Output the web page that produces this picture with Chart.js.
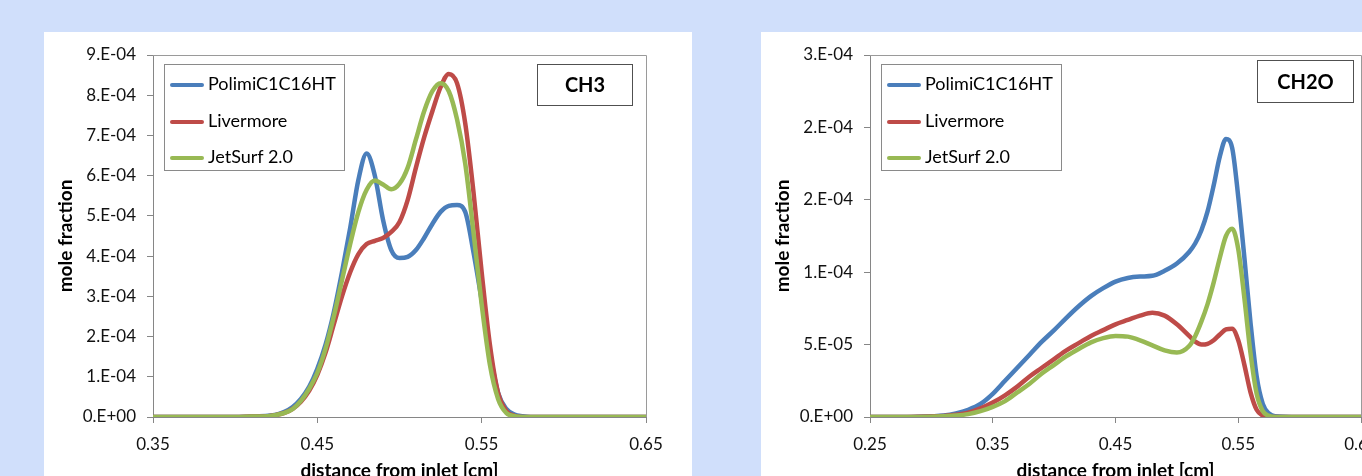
<!DOCTYPE html>
<html>
<head>
<meta charset="utf-8">
<script src="https://cdn.jsdelivr.net/npm/chart.js@4.4.0/dist/chart.umd.min.js"></script>
<style>
html, body { margin: 0; padding: 0; width: 1362px; height: 476px; overflow: hidden; background: #d0dffb; }
.panel { position: absolute; top: 32px; height: 455px; background: #fff; }
#p1 { left: 44px; width: 648px; }
#p2 { left: 761px; width: 650px; }
.panel canvas { position: absolute; left: 0; top: 0; }
.legend { position: absolute; left: 120px; top: 32px; width: 181px; height: 107px; border: 1px solid #8a8a8a; box-sizing: border-box; font: 18px Lato, sans-serif; color: #000; }
.legend .row { position: absolute; left: 0; height: 22px; line-height: 22px; white-space: nowrap; }
.legend .swatch { display: inline-block; width: 34px; height: 4px; border-radius: 2px; margin-left: 5px; margin-right: 4px; vertical-align: middle; }
.tag { position: absolute; border: 1.5px solid #505050; box-sizing: border-box; font: bold 20px Lato, sans-serif; text-align: center; color: #000; }
</style>
</head>
<body>
<div class="panel" id="p1">
  <canvas id="ch3" width="648" height="455"></canvas>
  <div class="legend" id="leg1"></div>
  <div class="tag" style="left:493px;top:32px;width:96px;height:42px;line-height:39px;">CH3</div>
</div>
<div class="panel" id="p2">
  <canvas id="ch2o" width="650" height="455"></canvas>
  <div class="legend" id="leg2"></div>
  <div class="tag" style="left:496px;top:28px;width:97px;height:43px;line-height:40px;">CH2O</div>
</div>
<script>
var seriesNames = ['PolimiC1C16HT', 'Livermore', 'JetSurf 2.0'];
var seriesColors = ['#4a7ebb', '#be4b48', '#98b954'];

// CH3 profile, mole fraction in units of 1e-4
var ch3X = [0.35, 0.38, 0.40, 0.41, 0.42, 0.425, 0.43, 0.435, 0.44, 0.445, 0.45, 0.455, 0.46, 0.465, 0.47, 0.475,
            0.48, 0.485, 0.49, 0.495, 0.50, 0.505, 0.51, 0.515, 0.52, 0.525, 0.53, 0.535, 0.54, 0.545, 0.55, 0.555,
            0.56, 0.565, 0.57, 0.575, 0.58, 0.59, 0.60, 0.65];
var ch3Polimi = [0, 0, 0, 0.01, 0.03, 0.06, 0.13, 0.25, 0.45, 0.75, 1.2, 1.8, 2.6, 3.6, 4.7, 5.9,
                 6.55, 6.0, 4.9, 4.15, 3.95, 3.98, 4.15, 4.45, 4.8, 5.1, 5.25, 5.27, 5.1, 4.1, 2.9, 1.6,
                 0.6, 0.2, 0.06, 0.02, 0, 0, 0, 0];
var ch3Livermore = [0, 0, 0, 0.01, 0.02, 0.05, 0.1, 0.2, 0.38, 0.65, 1.05, 1.6, 2.3, 3.0, 3.6, 4.05,
                    4.3, 4.38, 4.45, 4.6, 4.85, 5.4, 6.2, 6.95, 7.6, 8.2, 8.53, 8.3, 7.3, 5.6, 3.6, 1.8,
                    0.6, 0.15, 0.03, 0, 0, 0, 0, 0];
var ch3JetSurf = [0, 0, 0, 0.01, 0.02, 0.05, 0.1, 0.2, 0.4, 0.7, 1.1, 1.7, 2.5, 3.4, 4.3, 5.1,
                  5.65, 5.88, 5.78, 5.66, 5.8, 6.2, 6.9, 7.6, 8.1, 8.3, 8.1, 7.4, 6.3, 4.6, 2.8, 1.3,
                  0.45, 0.1, 0.02, 0, 0, 0, 0, 0];
var ch3XTicks = [0.35, 0.45, 0.55, 0.65];
var ch3YTicks = [0, 1, 2, 3, 4, 5, 6, 7, 8, 9];
var ch3YLabels = ['0.E+00', '1.E-04', '2.E-04', '3.E-04', '4.E-04', '5.E-04', '6.E-04', '7.E-04', '8.E-04', '9.E-04'];

// CH2O profile, mole fraction in units of 1e-5
var ch2oX = [0.25, 0.28, 0.30, 0.31, 0.32, 0.33, 0.34, 0.35, 0.36, 0.37, 0.38, 0.39, 0.40, 0.41, 0.42, 0.43,
             0.44, 0.45, 0.46, 0.47, 0.48, 0.49, 0.50, 0.51, 0.515, 0.52, 0.525, 0.53, 0.535, 0.54, 0.545, 0.55,
             0.555, 0.56, 0.565, 0.57, 0.575, 0.58, 0.60, 0.65];
var ch2oPolimi = [0, 0, 0.05, 0.1, 0.25, 0.5, 0.9, 1.6, 2.5, 3.4, 4.3, 5.2, 6.0, 6.85, 7.65, 8.35,
                  8.9, 9.35, 9.6, 9.7, 9.75, 10.1, 10.6, 11.4, 12.0, 12.9, 14.2, 16.0, 18.0, 19.2, 18.6, 15.2,
                  11.0, 6.5, 2.8, 0.9, 0.25, 0.05, 0, 0];
var ch2oLivermore = [0, 0, 0.03, 0.07, 0.15, 0.3, 0.6, 1.0, 1.5, 2.1, 2.8, 3.4, 4.0, 4.6, 5.1, 5.6,
                     6.0, 6.4, 6.7, 7.0, 7.2, 7.0, 6.4, 5.6, 5.2, 5.0, 5.05, 5.3, 5.7, 6.05, 6.1, 5.3,
                     3.6, 1.7, 0.5, 0.1, 0.02, 0, 0, 0];
var ch2oJetSurf = [0, 0, 0.02, 0.05, 0.1, 0.2, 0.4, 0.7, 1.1, 1.7, 2.3, 3.0, 3.6, 4.2, 4.7, 5.15,
                   5.45, 5.6, 5.55, 5.3, 4.95, 4.6, 4.45, 4.9, 5.6, 6.6, 7.8, 9.3, 11.0, 12.5, 13.0, 11.6,
                   8.2, 4.4, 1.6, 0.4, 0.08, 0, 0, 0];
var ch2oXTicks = [0.25, 0.35, 0.45, 0.55, 0.65];
var ch2oYTicks = [0, 5, 10, 15, 20, 25];
var ch2oYLabels = ['0.E+00', '5.E-05', '1.E-04', '2.E-04', '2.E-04', '3.E-04'];

var fontFamily = 'Lato, sans-serif';
var axisColor = '#868686';

var toPoints = function(xs, ys, unit) {
    return xs.map(function(x, i) { return { x: x, y: ys[i] * unit }; });
};

// grey frame on top and right of the plot area, like the excel chart
var frameBox = {
    id: 'frameBox',
    beforeDatasetsDraw: function(chart) {
        var a = chart.chartArea;
        var ctx = chart.ctx;
        ctx.save();
        ctx.strokeStyle = '#9a9a9a';
        ctx.lineWidth = 1;
        ctx.beginPath();
        ctx.moveTo(a.left, a.top + 0.5);
        ctx.lineTo(a.right + 0.5, a.top + 0.5);
        ctx.lineTo(a.right + 0.5, a.bottom);
        ctx.stroke();
        ctx.restore();
    }
};

var buildLegend = function(id) {
    var box = document.getElementById(id);
    var tops = [7, 43.5, 80];
    seriesNames.forEach(function(name, i) {
        var row = document.createElement('div');
        row.className = 'row';
        row.style.top = tops[i] + 'px';
        var sw = document.createElement('span');
        sw.className = 'swatch';
        sw.style.background = seriesColors[i];
        row.appendChild(sw);
        row.appendChild(document.createTextNode(name));
        box.appendChild(row);
    });
};

var initProfileChart = function(id, xs, series, unit, xTicks, yTicks, yLabels, xMin, xMax, yMax, padRight) {
    var ctx = document.getElementById(id).getContext('2d');
    var datasets = series.map(function(ys, i) {
        return {
            label: seriesNames[i],
            data: toPoints(xs, ys, unit),
            borderColor: seriesColors[i],
            backgroundColor: seriesColors[i],
            borderWidth: 4.5,
            pointRadius: 0,
            fill: false,
            cubicInterpolationMode: 'monotone',
            order: 3 - i
        };
    });
    return new Chart(ctx, {
        type: 'line',
        data: { datasets: datasets },
        plugins: [frameBox],
        options: {
            responsive: false,
            animation: false,
            layout: { padding: { top: 23, right: padRight, left: 0, bottom: 0 } },
            plugins: { legend: { display: false }, tooltip: { enabled: false } },
            scales: {
                x: {
                    type: 'linear',
                    min: xMin,
                    max: xMax,
                    afterBuildTicks: function(scale) {
                        scale.ticks = xTicks.map(function(v) { return { value: v }; });
                    },
                    afterFit: function(scale) { scale.height = 70; },
                    ticks: {
                        color: '#111',
                        font: { family: fontFamily, size: 17 },
                        padding: 11,
                        maxRotation: 0,
                        callback: function(value) { return value.toFixed(2); }
                    },
                    grid: { drawOnChartArea: false, drawTicks: true, tickLength: 6, color: axisColor },
                    border: { display: true, color: axisColor },
                    title: {
                        display: true,
                        text: 'distance from inlet [cm]',
                        color: '#000',
                        font: { family: fontFamily, size: 19, weight: 'bold' },
                        padding: { top: 0, bottom: 5 }
                    }
                },
                y: {
                    min: 0,
                    max: yMax * unit,
                    afterBuildTicks: function(scale) {
                        scale.ticks = yTicks.map(function(v) { return { value: v * unit }; });
                    },
                    afterFit: function(scale) { scale.width = 109; },
                    ticks: {
                        color: '#111',
                        font: { family: fontFamily, size: 17 },
                        padding: 11,
                        callback: function(value, index) { return yLabels[index]; }
                    },
                    grid: { drawOnChartArea: false, drawTicks: true, tickLength: 6, color: axisColor },
                    border: { display: true, color: axisColor },
                    title: {
                        display: true,
                        text: 'mole fraction',
                        color: '#000',
                        font: { family: fontFamily, size: 19, weight: 'bold' },
                        padding: { top: 10, bottom: 0 }
                    }
                }
            }
        }
    });
};

buildLegend('leg1');
buildLegend('leg2');
initProfileChart('ch3', ch3X, [ch3Polimi, ch3Livermore, ch3JetSurf], 1e-4,
    ch3XTicks, ch3YTicks, ch3YLabels, 0.35, 0.65, 9, 46);
initProfileChart('ch2o', ch2oX, [ch2oPolimi, ch2oLivermore, ch2oJetSurf], 1e-5,
    ch2oXTicks, ch2oYTicks, ch2oYLabels, 0.25, 0.65, 25, 50);
</script>
</body>
</html>
